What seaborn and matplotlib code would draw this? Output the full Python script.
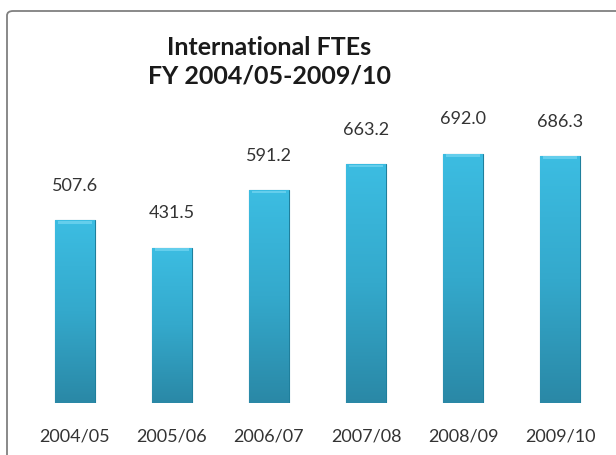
import numpy as np
import matplotlib
matplotlib.use("Agg")
import matplotlib.pyplot as plt
import seaborn as sns
from matplotlib.patches import FancyBboxPatch
from matplotlib.colors import LinearSegmentedColormap

# Data
years = ['2004/05', '2005/06', '2006/07', '2007/08', '2008/09', '2009/10']
ftes = [507.6, 431.5, 591.2, 663.2, 692.0, 686.3]

sns.set_style("white")
plt.rcParams['font.family'] = ['Lato', 'DejaVu Sans']

fig = plt.figure(figsize=(6.16, 4.55), dpi=100)
fig.patch.set_facecolor('white')

# chart frame (runs off the right / bottom edge like the screenshot)
frame = FancyBboxPatch((7 / 616, -0.05), 1.2, 1 - 11 / 455 + 0.05,
                       boxstyle="round,pad=0,rounding_size=0.01",
                       transform=fig.transFigure, facecolor='none',
                       edgecolor='#808080', linewidth=1.3, zorder=0)
fig.patches.append(frame)

ax = fig.add_axes([26.5 / 616, 52 / 455, 582 / 616, 288 / 455])
sns.barplot(x=years, y=ftes, color='#33aed3', width=0.41, ax=ax,
            edgecolor='#1f7f9c', linewidth=0.8, saturation=1)

# gradient fill clipped to each bar
cmap = LinearSegmentedColormap.from_list('bar', ['#2a88a6', '#34a9cc', '#3cbde2'])
grad = np.linspace(0, 1, 256).reshape(-1, 1)
for p in ax.patches:
    x0, y0 = p.get_x(), p.get_y()
    w, h = p.get_width(), p.get_height()
    im = ax.imshow(grad, cmap=cmap, aspect='auto', origin='lower',
                   extent=[x0, x0 + w, y0, y0 + h], zorder=2)
    im.set_clip_path(p)
    # light bevel along the top
    ax.fill_between([x0 + w * 0.08, x0 + w * 0.92], y0 + h - 9, y0 + h - 1,
                    color='#6fd3ef', alpha=0.8, zorder=3, linewidth=0)
ax.set_xlim(-0.5, len(years) - 0.5)
ax.set_ylim(0, 800)

for i, v in enumerate(ftes):
    ax.annotate(f'{v:.1f}', (i, v), xytext=(0, 19), textcoords='offset points',
                ha='center', va='bottom', fontsize=13, color='#333333')

ax.set_yticks([])
ax.tick_params(axis='x', length=0, pad=18, labelsize=13, labelcolor='#333333')
ax.set_xlabel('')
ax.set_ylabel('')
sns.despine(ax=ax, left=True, bottom=True)
ax.patch.set_alpha(0)

fig.text(0.437, 1 - 62 / 455, 'International FTEs\nFY 2004/05-2009/10',
         ha='center', va='center', fontsize=18, fontweight='bold',
         color='#1a1a1a', linespacing=1.3)

fig.savefig('out.png', dpi=100)
